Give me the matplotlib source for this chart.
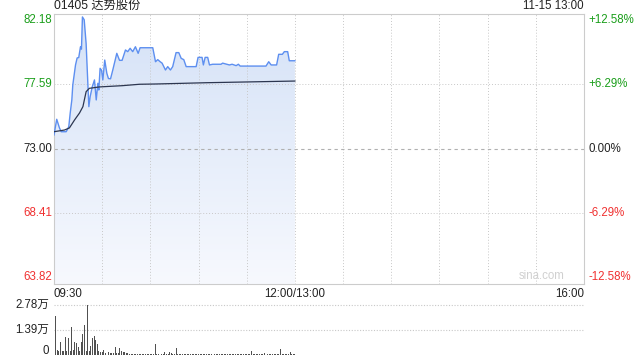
import numpy as np
import matplotlib.pyplot as plt
from matplotlib.patches import Polygon
from matplotlib.colors import LinearSegmentedColormap

plt.rcParams['font.family'] = ['Liberation Sans', 'Noto Sans CJK SC', 'DejaVu Sans']

# minutes after 09:30 (12:00 = 150, 16:00 = 330 with lunch removed)
price_t = [0, 1.7, 3.4, 4.5, 7.6, 9.2, 10.1, 11.1, 11.7, 13.4, 14.4, 15.4, 16.5, 17.1,
           17.7, 18.8, 20, 21.7, 22.5, 23.8, 25.2, 26.3, 27.3, 27.9, 28.7, 29.6, 30.4,
           31.6, 32.9, 33.9, 35.2, 36.6, 39.1, 40.8, 42.4, 44.5, 45.9, 47.4, 49, 50.7,
           52.4, 53.6, 61.5, 63.2, 64.6, 66.1, 67.3, 69.4, 70.8, 72.5, 73.9, 76, 77.7,
           79.2, 80.8, 82.3, 88.5, 89.7, 92.2, 93, 94.1, 95.7, 96.8, 98.8, 104, 105,
           109.2, 110.9, 113.4, 114.8, 115.9, 132, 133.7, 135.2, 138.6, 139.9, 142.2,
           143.4, 145.5, 146.5, 150]
price_v = [73.97, 75.09, 74.47, 74.2, 74.2, 74.56, 75.54, 76.47, 77.54, 78.97, 79.47, 79.5,
           80.27, 80.1, 82.4, 82.2, 80.5, 75.99, 76.7, 77.4, 77.9, 76.47, 77.66, 77.18,
           78.73, 78.6, 77.9, 79.32, 78.37, 78.0, 77.98, 78.61, 79.8, 79.3, 79.3, 80.04,
           79.92, 80.16, 79.92, 80.27, 79.8, 80.2, 80.2, 79.2, 79.35, 79.2, 79.1, 78.61,
           78.85, 78.61, 78.85, 79.85, 79.85, 79.44, 79.35, 78.85, 78.85, 79.51, 79.51,
           78.97, 79.51, 79.51, 78.97, 79.02, 79.02, 79.1, 78.97, 79.02, 78.92, 79.02,
           78.89, 78.89, 79.2, 78.97, 78.97, 79.73, 79.73, 79.92, 79.92, 79.27, 79.27]

avg_t = [0, 6.5, 9.6, 12.8, 15.9, 18, 20, 22, 28.3, 42.6, 53.2, 63.6, 94.7, 150]
avg_v = [74.2, 74.32, 74.47, 75.04, 75.54, 75.99, 77.06, 77.3, 77.4, 77.49, 77.59, 77.61,
         77.7, 77.82]

vol = [13900, 21700, 3000, 2500, 7400, 2500, 2000, 10200, 2000, 9300,
       2500, 15700, 3000, 7400, 6500, 4600, 2500, 7400, 11500, 16700,
       2000, 27800, 2500, 5000, 9300, 10700, 8300, 6000, 2000, 1500,
       1500, 2800, 1200, 900, 1500, 1200, 900, 900, 4300, 900,
       1000, 3900, 2500, 1800, 1500, 1000, 1200, 700, 700, 500,
       400, 600, 300, 500, 400, 300, 500, 400, 300, 500,
       400, 300, 500, 6100, 400, 300, 1200, 400, 300, 1500,
       500, 400, 1500, 900, 600, 400, 3700, 500, 400, 300,
       500, 400, 600, 300, 400, 500, 300, 400, 500, 300,
       400, 500, 300, 400, 300, 500, 400, 300, 500, 400,
       300, 500, 400, 300, 500, 400, 300, 500, 400, 300,
       500, 400, 300, 500, 400, 300, 500, 400, 300, 500,
       400, 300, 500, 2200, 400, 300, 500, 400, 300, 500,
       400, 900, 500, 400, 300, 500, 400, 600, 300, 500,
       400, 3100, 500, 400, 600, 300, 500, 1500, 400, 300, 500]

prev_close = 73.00
y_ticks = [82.18, 77.59, 73.00, 68.41, 63.82]
pct_labels = ['+12.58%', '+6.29%', '0.00%', '-6.29%', '-12.58%']
vol_ticks = [0, 13900, 27800]
vol_labels = ['0', '1.39万', '2.78万']
x_ticks = [0, 150, 330]
x_labels = ['09:30', '12:00/13:00', '16:00']

green = '#1a9e1a'
red = '#f03030'
grid_c = '#c8c8c8'
colors = [green, green, '#222222', red, red]
fs = 8.3

fig = plt.figure(figsize=(6.4, 3.6), dpi=100)
ax = fig.add_axes([54/640, 76/360, 530/640, 270/360])
ymin, ymax = 63.32, 82.61
ax.set_xlim(0, 330)
ax.set_ylim(ymin, ymax)

# gradient fill under the price line
grad = np.linspace(0, 1, 256).reshape(-1, 1)
cmap = LinearSegmentedColormap.from_list('g', ['#f7f9fe', '#d5e2f7'])
im = ax.imshow(grad, extent=[0, 150, ymin, max(price_v)], origin='lower', aspect='auto',
               cmap=cmap, zorder=1)
poly = Polygon(list(zip(price_t, price_v)) + [(150, ymin), (0, ymin)], closed=True,
               facecolor='none', edgecolor='none')
ax.add_patch(poly)
im.set_clip_path(poly)

ax.plot(price_t, price_v, color='#5d8ff0', lw=1.0, zorder=3)
ax.plot(avg_t, avg_v, color='#2c3650', lw=0.9, zorder=3)

for x in range(30, 330, 30):
    ax.axvline(x, color=grid_c, lw=0.7, ls=(0, (1, 2)), zorder=2)
for y in [77.59, 68.41]:
    ax.axhline(y, color=grid_c, lw=0.7, ls=(0, (1, 2)), zorder=2)
ax.axhline(prev_close, color='#b0b0b0', lw=0.8, ls=(0, (3, 3)), zorder=2)

for s in ax.spines.values():
    s.set_color('#cccccc')
    s.set_linewidth(0.8)
ax.set_xticks([])
ax.set_yticks([])

for y, c in zip(y_ticks, colors):
    ax.text(-1, y, f'{y:.2f}', color=c, fontsize=fs, ha='right', va='center')
for y, lab, c in zip(y_ticks, pct_labels, colors):
    ax.text(333, y, lab, color=c, fontsize=fs, ha='left', va='center')
for x, lab, ha in zip(x_ticks, x_labels, ['left', 'center', 'right']):
    ax.text(x, ymin - 0.3, lab, color='#222222', fontsize=fs, ha=ha, va='top')

ax.text(0, ymax + 0.12, '01405 达势股份', fontsize=8.8, color='#222222', ha='left', va='bottom')
ax.text(330, ymax + 0.12, '11-15 13:00', fontsize=fs, color='#222222', ha='right', va='bottom')
ax.text(318, ymin + 0.55, 'sina.com', fontsize=fs, color='#d0d0d0', ha='right', va='center')

# volume panel
vax = fig.add_axes([54/640, 5/360, 530/640, 55/360])
vax.set_xlim(0, 330)
vax.set_ylim(0, 27800 * 55 / 50)
vax.bar(np.arange(len(vol)), vol, width=0.6, color='#505050', zorder=3)
for v in vol_ticks[1:]:
    vax.axhline(v, color=grid_c, lw=0.8, ls=(0, (1, 1.5)), zorder=1)
for s in vax.spines.values():
    s.set_visible(False)
vax.set_xticks([])
vax.set_yticks([])
for v, lab in zip(vol_ticks, vol_labels):
    vax.text(-3, v + (2000 if v == 0 else 0), lab, fontsize=fs, color='#222222',
             ha='right', va='center')

fig.savefig('out.png', dpi=100)
